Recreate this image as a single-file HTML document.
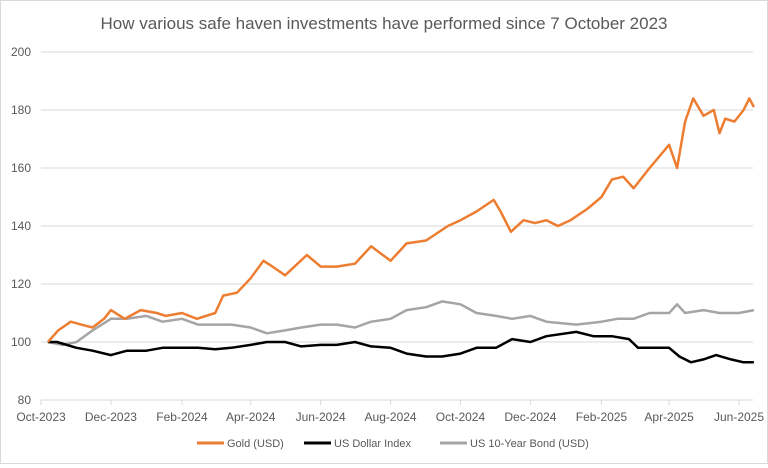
<!DOCTYPE html>
<html><head><meta charset="utf-8"><style>
body{margin:0;background:#fff;font-family:"Liberation Sans",sans-serif}
#wrap{position:relative;width:766px;height:462px;border:1px solid #d9d9d9;background:#fff}
svg text{font-family:"Liberation Sans",sans-serif;fill:#595959}
</style></head><body>
<div id="wrap">
<svg id="c" width="766" height="462"></svg>
</div>
<script>
const xTickLabels=["Oct-2023","Dec-2023","Feb-2024","Apr-2024","Jun-2024","Aug-2024","Oct-2024","Dec-2024","Feb-2025","Apr-2025","Jun-2025"];
const xTickDates=["2023-10-01","2023-12-01","2024-02-01","2024-04-01","2024-06-01","2024-08-01","2024-10-01","2024-12-01","2025-02-01","2025-04-01","2025-06-01"];
const yTicks=[80,100,120,140,160,180,200];
const goldDates=["2023-10-07","2023-10-16","2023-10-27","2023-11-05","2023-11-15","2023-11-25","2023-12-01","2023-12-13","2023-12-27","2024-01-10","2024-01-18","2024-02-01","2024-02-14","2024-03-01","2024-03-08","2024-03-20","2024-04-01","2024-04-12","2024-04-20","2024-05-01","2024-05-20","2024-06-01","2024-06-15","2024-07-01","2024-07-15","2024-08-01","2024-08-15","2024-09-01","2024-09-20","2024-10-01","2024-10-15","2024-10-30","2024-11-05","2024-11-14","2024-11-25","2024-12-05","2024-12-15","2024-12-25","2025-01-05","2025-01-20","2025-02-01","2025-02-10","2025-02-20","2025-03-01","2025-03-15","2025-04-01","2025-04-08","2025-04-15","2025-04-22","2025-05-01","2025-05-10","2025-05-15","2025-05-20","2025-05-28","2025-06-05","2025-06-10","2025-06-14"];
const goldValues=[100,104,107,106,105,108,111,108,111,110,109,110,108,110,116,117,122,128,126,123,130,126,126,127,133,128,134,135,140,142,145,149,145,138,142,141,142,140,142,146,150,156,157,153,160,168,160,176,184,178,180,172,177,176,180,184,181];
const usdDates=["2023-10-07","2023-10-15","2023-11-01","2023-11-15","2023-12-01","2023-12-15","2024-01-01","2024-01-15","2024-02-01","2024-02-15","2024-03-01","2024-03-15","2024-04-01","2024-04-15","2024-05-01","2024-05-15","2024-06-01","2024-06-15","2024-07-01","2024-07-15","2024-08-01","2024-08-15","2024-09-01","2024-09-15","2024-10-01","2024-10-15","2024-11-01","2024-11-15","2024-12-01","2024-12-15","2025-01-10","2025-01-25","2025-02-10","2025-02-25","2025-03-05","2025-03-20","2025-04-01","2025-04-10","2025-04-20","2025-05-01","2025-05-12","2025-05-25","2025-06-05","2025-06-14"];
const usdValues=[100,100,98,97,95.5,97,97,98,98,98,97.5,98,99,100,100,98.5,99,99,100,98.5,98,96,95,95,96,98,98,101,100,102,103.5,102,102,101,98,98,98,95,93,94,95.5,94,93,93];
const bondDates=["2023-10-07","2023-10-20","2023-11-01","2023-11-15","2023-12-01","2023-12-15","2024-01-01","2024-01-15","2024-02-01","2024-02-15","2024-03-01","2024-03-15","2024-04-01","2024-04-15","2024-05-01","2024-05-15","2024-06-01","2024-06-15","2024-07-01","2024-07-15","2024-08-01","2024-08-15","2024-09-01","2024-09-15","2024-10-01","2024-10-15","2024-11-01","2024-11-15","2024-12-01","2024-12-15","2025-01-10","2025-02-01","2025-02-15","2025-03-01","2025-03-15","2025-04-01","2025-04-08","2025-04-15","2025-05-01","2025-05-15","2025-06-01","2025-06-14"];
const bondValues=[100,99,100,104,108,108,109,107,108,106,106,106,105,103,104,105,106,106,105,107,108,111,112,114,113,110,109,108,109,107,106,107,108,108,110,110,113,110,111,110,110,111];

const svg=document.getElementById('c');const NS="http://www.w3.org/2000/svg";
const t0=Date.parse("2023-10-01"),t1=Date.parse("2025-06-01");
const X=d=>40+(Date.parse(d)-t0)/(t1-t0)*698;
const Y=v=>399-(v-80)/120*348;
function mk(tag,attrs,parent){const e=document.createElementNS(NS,tag);for(const k in attrs)e.setAttribute(k,attrs[k]);(parent||svg).appendChild(e);return e;}
const title=mk('text',{x:383,y:28,'text-anchor':'middle','font-size':17});
title.textContent="How various safe haven investments have performed since 7 October 2023";


yTicks.forEach(v=>{
 const g=mk('line',{x1:40,x2:752,y1:Y(v),y2:Y(v),stroke:'#d9d9d9','stroke-width':1});
 
 
 const t=mk('text',{x:30,y:Y(v)+4,'text-anchor':'end','font-size':12});
 t.textContent=v;
 
 
});
xTickDates.forEach((d,i)=>{
 const tk=mk('line',{x1:X(d),x2:X(d),y1:399,y2:404,stroke:'#d9d9d9'});
 
 
 const t=mk('text',{x:X(d),y:420,'text-anchor':'middle','font-size':12});
 t.textContent=xTickLabels[i];
 
 
});
function line(dates,vals,color,name){
 const p=mk('polyline',{points:dates.map((d,i)=>X(d).toFixed(1)+','+Y(vals[i]).toFixed(1)).join(' '),fill:'none',stroke:color,'stroke-width':2.5,'stroke-linejoin':'round'});
 
 
}
line(bondDates,bondValues,'#a5a5a5','bond-series-line');
line(usdDates,usdValues,'#000000','usd-index-series-line');
line(goldDates,goldValues,'#ed7d31','gold-series-line');
const leg=[["Gold (USD)","#ed7d31",196],["US Dollar Index","#000",303],["US 10-Year Bond (USD)","#a5a5a5",439]];
leg.forEach(l=>{
 const g=mk('g',{});
 
 
 mk('line',{x1:l[2],x2:l[2]+27,y1:442,y2:442,stroke:l[1],'stroke-width':3},g);
 const t=mk('text',{x:l[2]+30,y:446,'font-size':11},g);t.textContent=l[0];
});
</script>
</body></html>
